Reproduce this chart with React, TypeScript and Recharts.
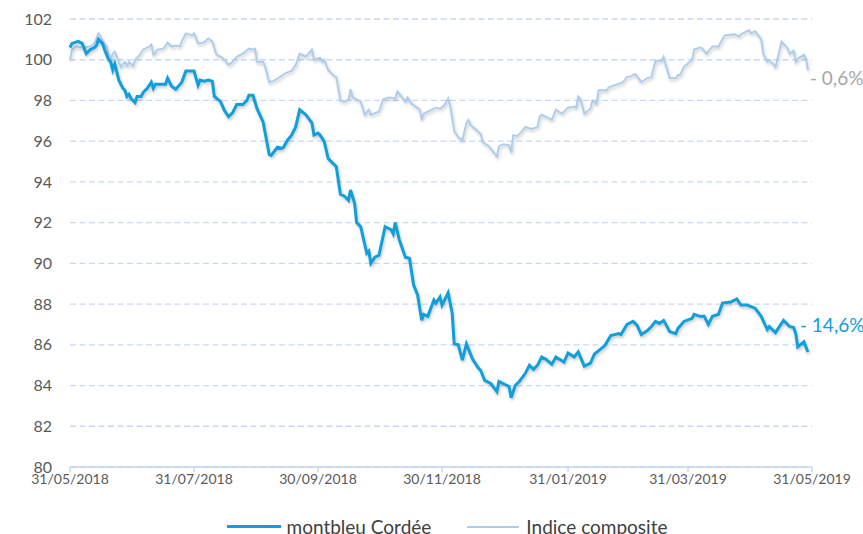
import React from "react";
import { LineChart, Line, XAxis, YAxis, CartesianGrid, Legend } from "recharts";

// days since 31/05/2018
const cordeeDays = [
  0, 1, 4, 6, 8, 10, 12, 13, 14, 16,
  17, 19, 20, 21, 22, 23, 24, 26, 27, 28,
  29, 30, 32, 33, 35, 36, 38, 40, 41, 42,
  47, 48, 50, 52, 55, 57, 61, 62, 63, 64,
  66, 68, 70, 71, 74, 76, 78, 80, 82, 85,
  87, 88, 90, 92, 95, 96, 98, 99, 102, 104,
  105, 107, 109, 111, 113, 116, 119, 120, 122, 123,
  125, 127, 130, 131, 133, 135, 137, 138, 140, 141,
  143, 146, 147, 148, 150, 152, 155, 158, 159, 160,
  162, 165, 167, 169, 171, 173, 174, 176, 179, 180,
  182, 183, 186, 188, 189, 191, 193, 195, 196, 198,
  201, 202, 204, 207, 210, 211, 214, 216, 217, 219,
  221, 224, 226, 228, 230, 232, 234, 237, 239, 243,
  245, 248, 250, 253, 256, 258, 263, 266, 270, 271,
  274, 277, 279, 281, 284, 286, 288, 290, 292, 295,
  298, 299, 302, 306, 307, 310, 312, 314, 316, 319,
  321, 325, 328, 330, 333, 337, 340, 343, 344, 347,
  351, 354, 356, 357, 358, 361, 363,
];

const cordeeValues = [
  100.6, 100.8, 100.9, 100.8, 100.3, 100.5, 100.6, 100.7, 101.0, 100.8,
  100.5, 100.0, 99.9, 99.5, 99.8, 99.4, 99.0, 98.6, 98.5, 98.2,
  98.3, 98.1, 97.9, 98.2, 98.2, 98.4, 98.6, 98.9, 98.6, 98.8,
  98.8, 99.1, 98.7, 98.55, 98.9, 99.45, 99.45, 99.1, 98.75, 99.0,
  98.95, 99.0, 98.95, 98.2, 97.95, 97.5, 97.2, 97.4, 97.8, 97.8,
  98.0, 98.25, 98.25, 97.6, 96.95, 96.4, 95.35, 95.3, 95.7, 95.65,
  95.7, 96.05, 96.3, 96.7, 97.55, 97.3, 96.9, 96.3, 96.4, 96.3,
  96.0, 95.15, 94.85, 94.75, 93.4, 93.3, 93.1, 93.6, 92.95, 92.0,
  91.8, 90.5, 90.6, 90.0, 90.3, 90.4, 91.8, 91.65, 91.45, 92.0,
  91.15, 90.3, 90.25, 88.95, 88.45, 87.2, 87.5, 87.4, 88.2, 88.05,
  88.35, 87.95, 88.55, 87.55, 86.05, 86.0, 85.25, 86.05, 85.8, 85.3,
  84.85, 84.75, 84.25, 84.1, 83.7, 84.2, 84.05, 83.95, 83.4, 84.0,
  84.2, 84.6, 85.0, 84.8, 85.0, 85.4, 85.3, 85.05, 85.4, 85.15,
  85.6, 85.4, 85.65, 84.95, 85.1, 85.55, 85.95, 86.45, 86.55, 86.5,
  87.0, 87.15, 86.95, 86.5, 86.7, 86.9, 87.15, 87.05, 87.2, 86.65,
  86.55, 86.8, 87.15, 87.3, 87.5, 87.4, 87.4, 87.0, 87.4, 87.5,
  88.05, 88.1, 88.25, 87.95, 87.95, 87.8, 87.4, 86.75, 86.9, 86.6,
  87.2, 86.9, 86.85, 86.55, 85.9, 86.15, 85.65,
];

const indiceDays = [
  0, 1, 3, 6, 10, 12, 14, 16, 18, 19,
  20, 21, 22, 24, 25, 27, 28, 29, 31, 32,
  34, 36, 39, 40, 41, 43, 46, 48, 50, 52,
  54, 55, 57, 60, 61, 63, 66, 68, 70, 72,
  75, 78, 80, 82, 85, 88, 90, 91, 92, 95,
  96, 98, 100, 104, 106, 109, 111, 113, 116, 119,
  120, 123, 124, 125, 127, 130, 131, 133, 135, 137,
  138, 139, 143, 145, 147, 148, 152, 154, 157, 160,
  161, 163, 165, 166, 168, 172, 173, 174, 176, 180,
  182, 184, 186, 187, 189, 191, 193, 195, 196, 197,
  200, 202, 203, 206, 208, 210, 211, 213, 216, 217,
  218, 220, 222, 224, 227, 230, 231, 232, 235, 237,
  239, 242, 245, 248, 249, 250, 251, 253, 256, 257,
  259, 260, 264, 265, 268, 271, 272, 274, 276, 278,
  281, 284, 286, 288, 291, 292, 293, 295, 298, 299,
  300, 302, 306, 307, 310, 311, 313, 316, 319, 322,
  327, 329, 330, 334, 335, 337, 340, 341, 343, 344,
  347, 348, 350, 353, 354, 356, 357, 358, 361, 362,
  363,
];

const indiceValues = [
  100.0, 100.5, 100.65, 100.6, 100.65, 100.8, 101.3, 100.95, 100.65, 100.25,
  100.0, 100.3, 100.4, 99.9, 99.65, 99.9, 99.7, 99.9, 99.7, 100.0,
  100.2, 100.5, 100.65, 100.75, 100.25, 100.5, 100.55, 100.85, 100.65, 100.7,
  100.65, 100.9, 101.3, 101.2, 101.3, 100.8, 100.85, 101.05, 100.9, 100.25,
  100.1, 99.75, 99.9, 100.15, 100.3, 100.55, 100.5, 100.55, 99.9, 99.9,
  99.65, 98.9, 98.95, 99.2, 99.35, 99.45, 99.75, 100.3, 100.15, 100.5,
  100.0, 100.1, 99.9, 100.0, 99.5, 99.2, 99.15, 98.0, 97.95, 98.05,
  98.55, 98.15, 97.95, 97.3, 97.55, 97.3, 97.45, 98.05, 98.15, 98.1,
  98.45, 98.2, 97.95, 98.15, 97.85, 97.55, 97.1, 97.35, 97.45, 97.65,
  97.6, 97.75, 98.1, 97.75, 96.5, 96.2, 96.05, 96.9, 97.05, 96.8,
  96.55, 96.35, 95.95, 95.75, 95.5, 95.25, 95.75, 95.85, 95.8, 95.45,
  96.3, 96.25, 96.45, 96.7, 96.6, 96.7, 97.2, 97.3, 97.15, 97.05,
  97.55, 97.35, 97.65, 97.7, 97.65, 98.2, 98.1, 97.35, 97.6, 98.0,
  97.85, 98.5, 98.5, 98.65, 98.75, 98.85, 98.9, 99.15, 99.2, 99.3,
  98.9, 99.1, 99.15, 99.95, 99.95, 100.15, 99.75, 99.1, 99.1, 99.25,
  99.25, 99.65, 100.0, 100.5, 100.6, 100.55, 100.3, 100.65, 100.65, 101.2,
  101.25, 101.15, 101.25, 101.45, 101.3, 101.4, 101.0, 100.3, 99.9, 100.0,
  99.65, 100.05, 100.9, 100.55, 100.3, 100.45, 99.9, 100.05, 100.25, 100.05,
  99.5,
];

const tickDays = [0, 61, 122, 183, 245, 304, 365];
const tickLabels = [
  "31/05/2018",
  "31/07/2018",
  "30/09/2018",
  "30/11/2018",
  "31/01/2019",
  "31/03/2019",
  "31/05/2019",
];
const yTicks = [80, 82, 84, 86, 88, 90, 92, 94, 96, 98, 100, 102];

const CORDEE_COLOR = "#0e9fdc";
const INDICE_COLOR = "#a9cdef";

const cordeeData = cordeeDays.map((d, i) => ({ day: d, value: cordeeValues[i] }));
const indiceData = indiceDays.map((d, i) => ({ day: d, value: indiceValues[i] }));

const endLabel =
  (text: string, color: string, lastIndex: number, dx: number, dy: number) =>
  (props: any) => {
    if (props.index !== lastIndex) return null;
    return (
      <text
        x={props.x + dx}
        y={props.y + dy}
        fill={color}
        fontSize={19}
        dominantBaseline="central"
        textAnchor="start"
      >
        {text}
      </text>
    );
  };

const renderLegend = () => (
  <div
    style={{
      display: "flex",
      justifyContent: "center",
      alignItems: "center",
      paddingTop: 20,
      paddingLeft: 82,
      fontSize: 19,
      color: "#404040",
      lineHeight: "19px",
    }}
  >
    <span style={{ display: "inline-block", width: 54, height: 3, background: CORDEE_COLOR, marginRight: 6 }} />
    <span style={{ marginRight: 36 }}>montbleu Cordée</span>
    <span style={{ display: "inline-block", width: 52, height: 2, background: INDICE_COLOR, marginRight: 7 }} />
    <span>Indice composite</span>
  </div>
);

export default function App() {
  return (
    <div
      style={{
        width: 863,
        height: 534,
        overflow: "hidden",
        position: "relative",
        fontFamily: "Lato, sans-serif",
        background: "#fff",
      }}
    >
      <style>{`body{margin:0;overflow:hidden}.shadow-line{filter:drop-shadow(1px 2px 1.5px rgba(0,0,0,0.22))}`}</style>
      <LineChart width={863} height={534} margin={{ top: 19, right: 51, bottom: 0, left: 0 }}>
        <CartesianGrid
          horizontal={true}
          vertical={false}
          stroke="#c9d8f6"
          strokeDasharray="6 3.5"
          strokeWidth={1.3}
        />
        <XAxis
          type="number"
          dataKey="day"
          domain={[0, 365]}
          ticks={tickDays}
          tickFormatter={(v: number) => tickLabels[tickDays.indexOf(v)]}
          height={30}
          stroke="#c5d6f3"
          strokeWidth={1.5}
          tickSize={5}
          tick={{ fill: "#595959", fontSize: 14 }}
          interval={0}
        />
        <YAxis
          type="number"
          domain={[80, 102]}
          ticks={yTicks}
          width={70}
          axisLine={false}
          tickLine={false}
          tickSize={0}
          tickMargin={18}
          tick={{ fill: "#595959", fontSize: 16 }}
          interval={0}
        />
        <Legend verticalAlign="bottom" height={37} content={renderLegend} />
        <Line
          data={indiceData}
          dataKey="value"
          type="linear"
          stroke={INDICE_COLOR}
          strokeWidth={1.8}
          dot={false}
          className="shadow-line"
          isAnimationActive={false}
          label={endLabel("- 0,6%", "#a6a6a6", indiceData.length - 1, 2, 8)}
        />
        <Line
          data={cordeeData}
          dataKey="value"
          type="linear"
          stroke={CORDEE_COLOR}
          strokeWidth={3}
          dot={false}
          className="shadow-line"
          isAnimationActive={false}
          label={endLabel("- 14,6%", CORDEE_COLOR, cordeeData.length - 1, -8, -27)}
        />
      </LineChart>
    </div>
  );
}
